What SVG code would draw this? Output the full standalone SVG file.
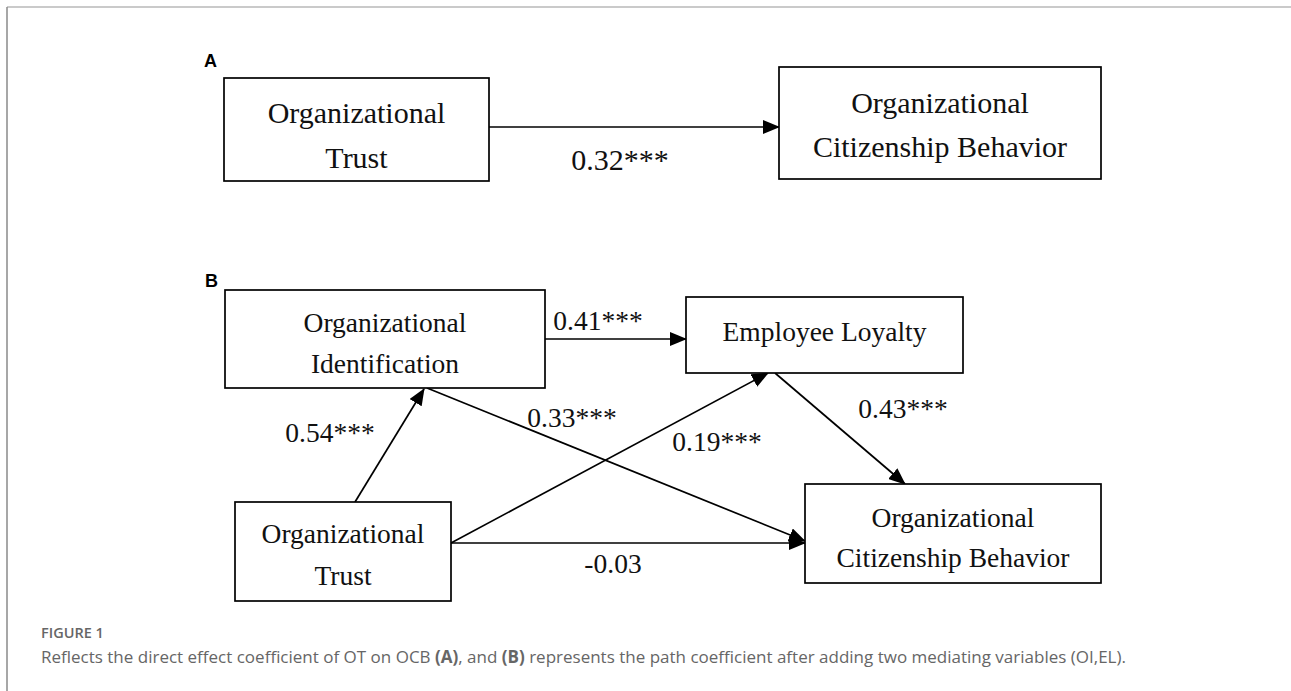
<svg xmlns="http://www.w3.org/2000/svg" width="1291" height="691" viewBox="0 0 1291 691">
<style>
.box{fill:#fff;stroke:#000;stroke-width:1.7}
.t{font-family:"Liberation Serif","Times New Roman",serif;fill:#111;text-anchor:middle}
.ta{font-size:30px}
.tb{font-size:27.5px}
.lab{font-family:"Liberation Sans",Arial,sans-serif;font-weight:bold;font-size:18px;fill:#000}
.edge{stroke:#000;stroke-width:1.7;fill:none;marker-end:url(#ah)}
.cap{font-family:"Open Sans","Noto Sans",sans-serif;fill:#666}
</style>
<defs>
<marker id="ah" viewBox="0 0 17 14" refX="16" refY="7" markerWidth="17" markerHeight="14" markerUnits="userSpaceOnUse" orient="auto">
<path d="M0,0 L17,7 L0,14 z" fill="#000"/>
</marker>
</defs>
<rect width="1291" height="691" fill="#fff"/>
<line x1="7" y1="7" x2="1291" y2="7" stroke="#b8b8b8" stroke-width="1.5"/>
<line x1="7" y1="7" x2="7" y2="691" stroke="#8a8a8a" stroke-width="1.5"/>

<text class="lab" x="204" y="67">A</text>
<text class="lab" x="205" y="287">B</text>

<g id="connectors">
<line class="edge" x1="489" y1="127" x2="779" y2="127"/>
<line class="edge" x1="355" y1="502" x2="424" y2="389"/>
<line class="edge" x1="545" y1="339" x2="686" y2="339"/>
<line class="edge" x1="427" y1="388" x2="805" y2="541"/>
<line class="edge" x1="451" y1="543" x2="768" y2="373"/>
<line class="edge" x1="451" y1="543" x2="805" y2="543"/>
<line class="edge" x1="775" y1="373" x2="905" y2="484"/>
</g>

<g id="a-ot">
<rect class="box" x="224" y="78" width="265" height="103"/>
<text class="t ta" x="356.5" y="123">Organizational</text>
<text class="t ta" x="356.5" y="168">Trust</text>
</g>
<g id="a-ocb">
<rect class="box" x="779" y="67" width="322" height="112"/>
<text class="t ta" x="940" y="113">Organizational</text>
<text class="t ta" x="940" y="157">Citizenship Behavior</text>
</g>
<text class="t ta" x="620" y="170">0.32***</text>

<g id="b-oi">
<rect class="box" x="225" y="290" width="320" height="98"/>
<text class="t tb" x="385" y="332">Organizational</text>
<text class="t tb" x="385" y="373">Identification</text>
</g>
<g id="b-el">
<rect class="box" x="686" y="297" width="277" height="76"/>
<text class="t tb" x="824.5" y="341">Employee Loyalty</text>
</g>
<g id="b-ot">
<rect class="box" x="235" y="502" width="216" height="99"/>
<text class="t tb" x="343" y="543">Organizational</text>
<text class="t tb" x="343" y="585">Trust</text>
</g>
<g id="b-ocb">
<rect class="box" x="805" y="484" width="296" height="99"/>
<text class="t tb" x="953" y="527">Organizational</text>
<text class="t tb" x="953" y="567">Citizenship Behavior</text>
</g>

<text class="t tb" x="598" y="330">0.41***</text>
<text class="t tb" x="330" y="442">0.54***</text>
<text class="t tb" x="572" y="427">0.33***</text>
<text class="t tb" x="717" y="451">0.19***</text>
<text class="t tb" x="903" y="418">0.43***</text>
<text class="t tb" x="613" y="573">-0.03</text>

<text class="cap" x="41" y="638" font-size="14.5" font-weight="600">FIGURE 1</text>
<text class="cap" x="41" y="663" font-size="17">Reflects the direct effect coefficient of OT on OCB <tspan font-weight="bold">(A)</tspan>, and <tspan font-weight="bold">(B)</tspan> represents the path coefficient after adding two mediating variables (OI,EL).</text>
</svg>
